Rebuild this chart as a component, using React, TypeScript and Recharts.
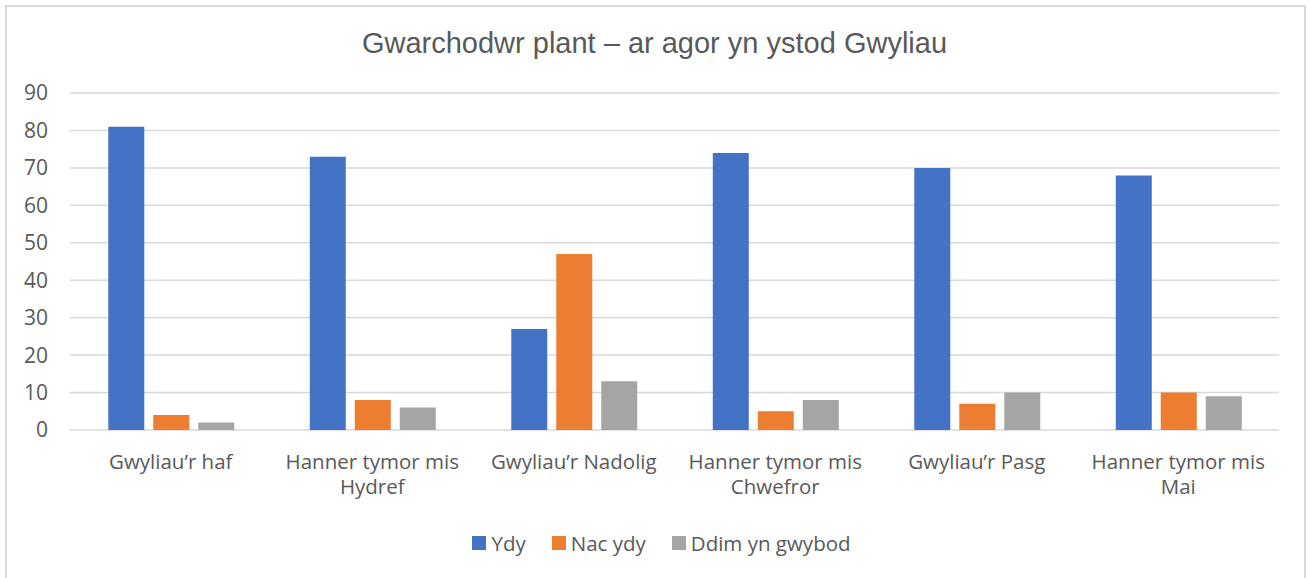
import { BarChart, Bar, XAxis, YAxis, CartesianGrid } from "recharts"

const categories = [
  "Gwyliau’r haf",
  "Hanner tymor mis Hydref",
  "Gwyliau’r Nadolig",
  "Hanner tymor mis Chwefror",
  "Gwyliau’r Pasg",
  "Hanner tymor mis Mai",
]

// how each category label wraps under the axis
const tickLines: string[][] = [
  ["Gwyliau’r haf"],
  ["Hanner tymor mis", "Hydref"],
  ["Gwyliau’r Nadolig"],
  ["Hanner tymor mis", "Chwefror"],
  ["Gwyliau’r Pasg"],
  ["Hanner tymor mis", "Mai"],
]

const ydy = [81, 73, 27, 74, 70, 68]
const nacYdy = [4, 8, 47, 5, 7, 10]
const ddimYnGwybod = [2, 6, 13, 8, 10, 9]

const yTicks = [0, 10, 20, 30, 40, 50, 60, 70, 80, 90]

const series = [
  { key: "ydy", name: "Ydy", color: "#4472C4" },
  { key: "nac", name: "Nac ydy", color: "#ED7D31" },
  { key: "ddim", name: "Ddim yn gwybod", color: "#A5A5A5" },
]

const data = categories.map((name, i) => ({
  name,
  ydy: ydy[i],
  nac: nacYdy[i],
  ddim: ddimYnGwybod[i],
}))

const font = "'Open Sans', sans-serif"
const textColor = "#595959"

function CategoryTick(props: any) {
  const { x, y, payload } = props
  const lines = tickLines[payload.index] ?? [payload.value]
  return (
    <text x={x} y={y} textAnchor="middle" fill={textColor} fontSize={20.5} fontFamily={font}>
      {lines.map((line, i) => (
        <tspan key={i} x={x} dy={25}>
          {line}
        </tspan>
      ))}
    </text>
  )
}

export default function App() {
  return (
    <div style={{ position: "absolute", left: 0, top: 0, width: 1309, height: 578, background: "#fff", overflow: "hidden" }}>
      <div
        style={{
          position: "absolute",
          left: 5,
          top: 5,
          width: 1301,
          height: 600,
          border: "2px solid #d9d9d9",
          boxSizing: "border-box",
        }}
      />
      <div
        style={{
          position: "absolute",
          left: 0,
          top: 27,
          width: 1309,
          textAlign: "center",
          fontFamily: "'Liberation Sans', Arial, sans-serif",
          fontSize: 29,
          color: textColor,
        }}
      >
        Gwarchodwr plant – ar agor yn ystod Gwyliau
      </div>
      <div style={{ position: "absolute", left: 0, top: 0 }}>
        <BarChart
          width={1309}
          height={578}
          data={data}
          margin={{ top: 93, right: 30, bottom: 0, left: 0 }}
          barCategoryGap="19%"
          barGap={9}
        >
          <CartesianGrid vertical={false} stroke="#d9d9d9" strokeWidth={1.5} />
          <XAxis
            dataKey="name"
            height={148}
            axisLine={false}
            tickLine={false}
            interval={0}
            tickSize={6}
            tickMargin={8}
            tick={<CategoryTick />}
          />
          <YAxis
            width={70}
            domain={[0, 90]}
            ticks={yTicks}
            axisLine={false}
            tickLine={false}
            tickSize={6}
            tickMargin={16}
            tick={{ fill: textColor, fontSize: 21, fontFamily: font }}
          />
          {series.map((s) => (
            <Bar key={s.key} dataKey={s.key} name={s.name} fill={s.color} isAnimationActive={false} />
          ))}
        </BarChart>
      </div>
      <div
        style={{
          position: "absolute",
          left: 0,
          top: 529,
          width: 1309,
          display: "flex",
          justifyContent: "center",
          gap: 26,
          fontFamily: font,
          fontSize: 20.5,
          color: textColor,
          paddingLeft: 14,
          boxSizing: "border-box",
        }}
      >
        {series.map((s) => (
          <div key={s.key} style={{ display: "flex", alignItems: "center", gap: 5 }}>
            <span style={{ display: "inline-block", width: 14, height: 14, background: s.color }} />
            <span>{s.name}</span>
          </div>
        ))}
      </div>
    </div>
  )
}
